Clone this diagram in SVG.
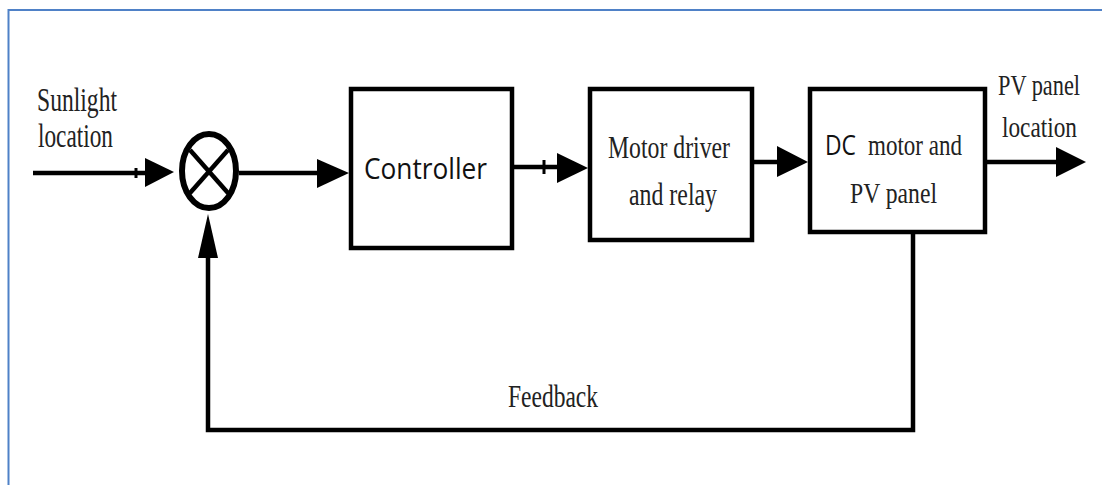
<svg xmlns="http://www.w3.org/2000/svg" width="1102" height="485" viewBox="0 0 1102 485">
<style>
.box{fill:#fff;stroke:#000;stroke-width:4.5}
.ln{fill:none;stroke:#000;stroke-width:4.5}
.thin{fill:none;stroke:#000;stroke-width:3}
.head{fill:#000}
.serif{font-family:"Liberation Serif","Times New Roman",serif;fill:#222}
.sans{font-family:"Open Sans","Noto Sans","Liberation Sans",sans-serif;fill:#111}
</style>
<rect x="0" y="0" width="1102" height="485" fill="#fff"/>
<path d="M8.5 485 V10 H1102" fill="none" stroke="#4f81c7" stroke-width="2"/>

<g id="sum">
<ellipse cx="209" cy="171" rx="27" ry="37" fill="#fff" stroke="#000" stroke-width="6"/>
<line x1="190" y1="150" x2="228" y2="193" class="ln" stroke-width="5.5"/>
<line x1="228" y1="150" x2="190" y2="193" class="ln" stroke-width="5.5"/>
</g>

<g id="controller">
<rect class="box" x="351" y="89" width="161" height="159"/>
<text class="sans" x="364" y="179" font-size="30" textLength="123" lengthAdjust="spacingAndGlyphs">Controller</text>
</g>

<g id="motor-driver">
<rect class="box" x="590" y="89" width="162" height="151"/>
<text class="serif" x="608" y="158" font-size="31" textLength="122" lengthAdjust="spacingAndGlyphs">Motor driver</text>
<text class="serif" x="629" y="205" font-size="31" textLength="88" lengthAdjust="spacingAndGlyphs">and relay</text>
</g>

<g id="dc-motor">
<rect class="box" x="810" y="89" width="175" height="143"/>
<text class="sans" x="825" y="155" font-size="27" textLength="31" lengthAdjust="spacingAndGlyphs">DC</text>
<text class="serif" x="868" y="155" font-size="30" textLength="94" lengthAdjust="spacingAndGlyphs">motor and</text>
<text class="serif" x="850" y="203" font-size="30" textLength="87" lengthAdjust="spacingAndGlyphs">PV panel</text>
</g>

<g id="labels">
<text class="serif" x="37" y="111" font-size="33" textLength="80" lengthAdjust="spacingAndGlyphs">Sunlight</text>
<text class="serif" x="38" y="147" font-size="33" textLength="75" lengthAdjust="spacingAndGlyphs">location</text>
<text class="serif" x="998" y="95" font-size="29" textLength="82" lengthAdjust="spacingAndGlyphs">PV panel</text>
<text class="serif" x="1002" y="137" font-size="29" textLength="75" lengthAdjust="spacingAndGlyphs">location</text>
<text class="serif" x="508" y="407" font-size="31" textLength="90" lengthAdjust="spacingAndGlyphs">Feedback</text>
</g>

<g id="connectors">
<line class="ln" x1="33" y1="173" x2="150" y2="173"/>
<line class="thin" x1="136" y1="168" x2="136" y2="178"/>
<polygon class="head" points="145,158 174,172 145,187"/>

<line class="ln" x1="239" y1="173" x2="322" y2="173"/>
<polygon class="head" points="317,159 349,173 317,188"/>

<line class="ln" x1="512" y1="167" x2="560" y2="167"/>
<line class="thin" x1="544" y1="160" x2="544" y2="174"/>
<polygon class="head" points="557,153 588,168 557,183"/>

<line class="ln" x1="752" y1="162" x2="780" y2="162"/>
<polygon class="head" points="777,146 808,162 777,177"/>

<line class="ln" x1="985" y1="162" x2="1060" y2="162"/>
<polygon class="head" points="1056,147 1086,162 1056,177"/>

<path class="ln" d="M913 232 V430 H208 V250" stroke-width="4"/>
<polygon class="head" points="198,258 208,214 218,258"/>
</g>
</svg>
